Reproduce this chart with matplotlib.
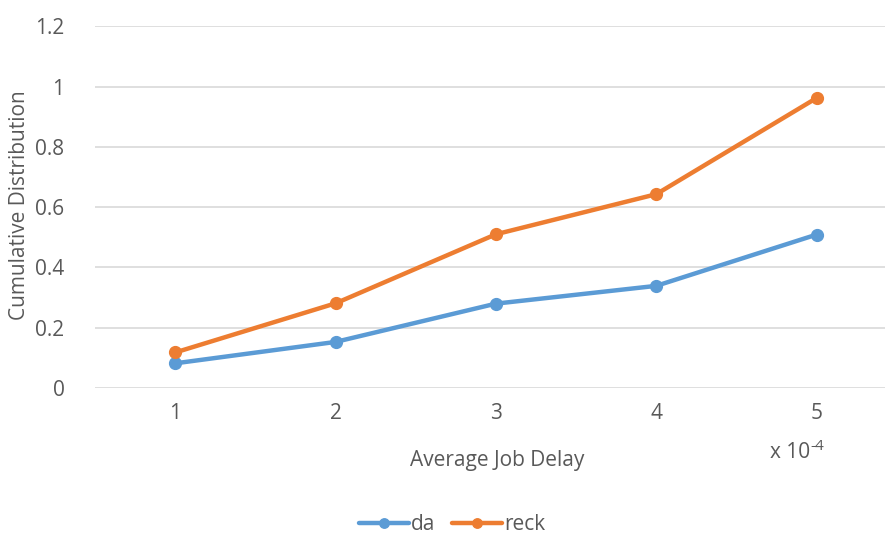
import matplotlib.pyplot as plt

plt.rcParams['font.family'] = ['Open Sans', 'DejaVu Sans']

delays = [1, 2, 3, 4, 5]
da = [0.082, 0.153, 0.28, 0.339, 0.509]
reck = [0.118, 0.281, 0.51, 0.643, 0.962]

grey = "#595959"
fs = 15

fig = plt.figure(figsize=(8.85, 5.36), dpi=100)
ax = fig.add_axes([0.1073, 0.276, 0.906, 0.675])

ax.plot(delays, da, color="#5B9BD5", lw=3.2, marker="o", markersize=8.5, label="da",
        solid_capstyle="round", zorder=3)
ax.plot(delays, reck, color="#ED7D31", lw=3.2, marker="o", markersize=8.5, label="reck",
        solid_capstyle="round", zorder=3)

ax.set_xlim(0.5, 5.5)
ax.set_ylim(0, 1.2)
ax.set_yticks([0, 0.2, 0.4, 0.6, 0.8, 1.0, 1.2])
ax.set_yticklabels(["0", "0.2", "0.4", "0.6", "0.8", "1", "1.2"])
ax.set_xticks(delays)

ax.grid(axis="y", color="#D9D9D9", lw=1.2)
ax.set_axisbelow(True)
for s in ax.spines.values():
    s.set_visible(False)
ax.tick_params(length=0, labelsize=fs, labelcolor=grey)
ax.tick_params(axis="y", pad=22)
ax.tick_params(axis="x", pad=11)

# axis titles placed like the office chart layout
ax.set_ylabel("Cumulative Distribution", fontsize=fs, color=grey, va="center")
ax.yaxis.set_label_coords(-0.0935, 0.505)
ax.set_xlabel("Average Job Delay", fontsize=fs, color=grey, va="center")
ax.xaxis.set_label_coords(0.502, -0.199)

# scale note "x 10-4", exponent drawn as a small raised text
fig.text(770 / 885, 1 - 453 / 536, "x 10", fontsize=fs, color=grey,
         ha="left", va="center")
fig.text(810 / 885, 1 - 446 / 536, "-4", fontsize=11, color=grey,
         ha="left", va="center")

fig.legend(*ax.get_legend_handles_labels(), loc="center",
           bbox_to_anchor=(452 / 885, 1 - 525 / 536), ncol=2, frameon=False,
           fontsize=fs, labelcolor=grey, handlelength=2.4, handletextpad=0.1,
           columnspacing=0.8, markerscale=0.8)

fig.savefig("out.png", dpi=100)
